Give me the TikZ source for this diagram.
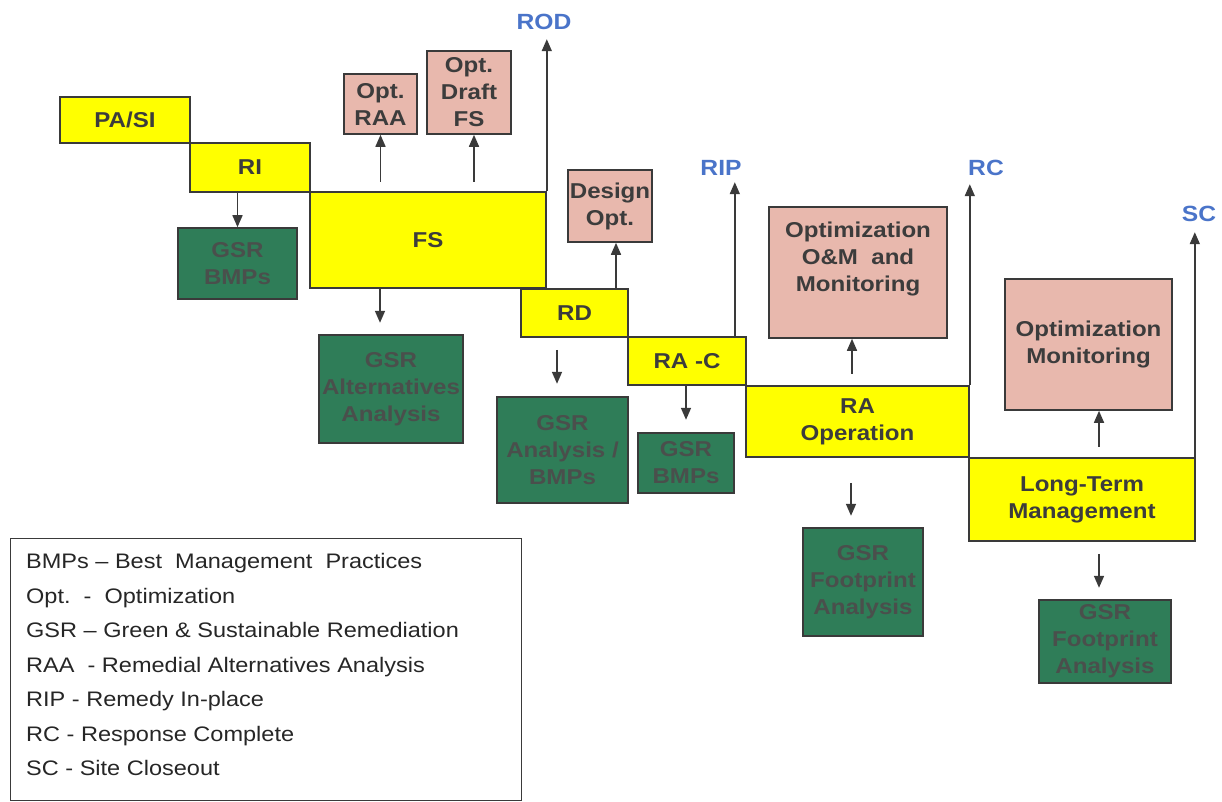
\documentclass[tikz,border=0pt]{standalone}
\usepackage{fontspec}
\setmainfont{Liberation Sans}[FakeStretch=1.12]
\usetikzlibrary{arrows.meta}
\definecolor{ylw}{HTML}{FFFF00}
\definecolor{pnk}{HTML}{E8B8AD}
\definecolor{grn}{HTML}{2F7D58}
\definecolor{edge}{HTML}{3A3A3A}
\definecolor{txt}{HTML}{3C3C3C}
\definecolor{gtxt}{HTML}{4A4F4C}
\definecolor{blu}{HTML}{4A74C9}
\begin{document}
\begin{tikzpicture}[x=1pt,y=-1pt,
  box/.style={draw=edge, line width=1.6pt, align=center, inner sep=0pt,
    font=\fontsize{21.5}{27}\selectfont\bfseries, text=txt},
  wh/.style 2 args={minimum width=#1pt, minimum height=#2pt},
  yb/.style={box, fill=ylw},
  pb/.style={box, fill=pnk},
  gb/.style={box, fill=grn, text=gtxt},
  arr/.style={draw=edge, line width=1.6pt, -{Triangle[length=12pt,width=10pt]}},
  ms/.style={inner sep=0pt, font=\fontsize{22}{24}\selectfont\bfseries, text=blu}]
\useasboundingbox (0,0) rectangle (1222,802);
% phases
\node[yb, wh={130}{46}] (pasi) at (125,120) {PA/SI};
\node[yb, wh={120}{49}] (ri) at (250,167.5) {RI};
\node[yb, wh={236}{96}] (fs) at (428,240) {FS};
\node[yb, wh={107}{48}] (rd) at (574.5,313) {RD};
\node[yb, wh={118}{48}] (rac) at (687,361) {RA -C};
\node[yb, wh={223}{71}] (raop) at (857.5,421.5) {RA\\Operation};
\node[yb, wh={226}{83}] (ltm) at (1082,499.5) {Long-Term\\Management};
% optimization boxes
\node[pb, wh={73}{60}] (optraa) at (380.5,104) {Opt.\\RAA};
\node[pb, wh={84}{83}] (optdraft) at (469,92.5) {Opt.\\Draft\\FS};
\node[pb, wh={84}{72}] (design) at (610,206) {Design\\Opt.};
\node[pb, wh={178}{131}, text depth=32pt] (optom) at (858,272.5) {Optimization\\O\&M\ \ and\\Monitoring};
\node[pb, wh={167}{131}] (optmon) at (1088.5,344.5) {Optimization\\Monitoring};
% GSR boxes
\node[gb, wh={119}{71}] (gsr1) at (237.5,263.5) {GSR\\BMPs};
\node[gb, wh={144}{108}] (gsralt) at (391,389) {GSR\\Alternatives\\Analysis};
\node[gb, wh={131}{106}] (gsran) at (562.5,450) {GSR\\Analysis /\\BMPs};
\node[gb, wh={96}{60}] (gsr2) at (686,463) {GSR\\BMPs};
\node[gb, wh={120}{108}] (gsrf1) at (863,582) {GSR\\Footprint\\Analysis};
\node[gb, wh={132}{83}] (gsrf2) at (1105,641.5) {GSR\\Footprint\\Analysis};
% milestones
\node[ms] (rod) at (544,22) {ROD};
\node[ms] (rip) at (721,168) {RIP};
\node[ms] (rc) at (986,168) {RC};
\node[ms] (sc) at (1199,214) {SC};
% arrows
\draw[arr] (ri.south -| gsr1.north) -- (gsr1.north);
\draw[arr] ([yshift=-47pt]optraa.south) -- (optraa.south);
\draw[arr] ([xshift=5pt,yshift=-47pt]optdraft.south) -- ([xshift=5pt]optdraft.south);
\draw[arr] (fs.north east) -- ++(0,-152);
\draw[arr] ([xshift=-48pt]fs.south) -- ++(0,34);
\draw[arr] ([xshift=41.5pt]rd.north) -- ([xshift=6pt]design.south);
\draw[arr] ([xshift=-17.5pt,yshift=-12pt]rd.south) -- ++(0,34);
\draw[arr] ([xshift=-12pt]rac.north east) -- ++(0,-154);
\draw[arr] ([xshift=-1pt]rac.south) -- ++(0,34);
\draw[arr] ([xshift=-6pt,yshift=-35pt]optom.south) -- ([xshift=-6pt]optom.south);
\draw[arr] (raop.north east) -- ++(0,-201);
\draw[arr] ([xshift=-6.5pt,yshift=-25pt]raop.south) -- ++(0,33);
\draw[arr] ([xshift=10.5pt,yshift=-36pt]optmon.south) -- ([xshift=10.5pt]optmon.south);
\draw[arr] ([xshift=-1pt]ltm.north east) -- ++(0,-225);
\draw[arr] ([xshift=17pt,yshift=-12pt]ltm.south) -- ++(0,34);
% legend
\node[draw=edge, line width=1.4pt, anchor=north west, minimum width=511pt, minimum height=262pt, inner sep=0pt] (legend) at (10,538) {};
\node[anchor=north west, align=left, inner sep=0pt, text=black!85,
  font=\fontsize{21}{34.5}\selectfont] (legtext) at (26,553.5)
  {BMPs -- Best\ \ Management\ \ Practices\\
   Opt.\ \ -\ \ Optimization\\
   GSR -- Green \& Sustainable Remediation\\
   RAA\ \ - Remedial Alternatives Analysis\\
   RIP - Remedy In-place\\
   RC - Response Complete\\
   SC - Site Closeout};
\end{tikzpicture}
\end{document}
